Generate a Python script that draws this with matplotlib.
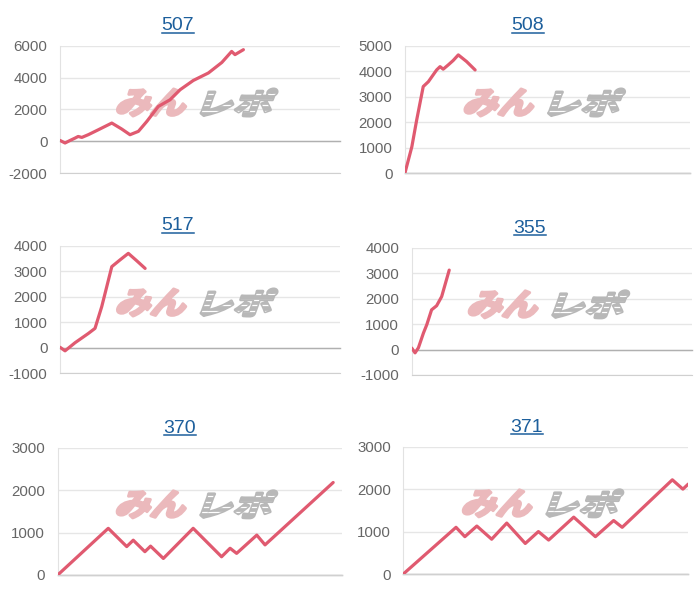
import matplotlib
matplotlib.use('Agg')
import matplotlib.pyplot as plt
from matplotlib.textpath import TextPath
from matplotlib.font_manager import FontProperties
from matplotlib.patches import PathPatch
from matplotlib.transforms import Affine2D
from matplotlib.lines import Line2D

plt.rcParams['font.family'] = ['Liberation Sans', 'DejaVu Sans']
plt.rcParams['axes.unicode_minus'] = False

W, H = 700, 600

titles = ['507', '508', '517', '355', '370', '371']

# x = position along the period (0..100), y = cumulative result
x_507 = [0, 1.8, 3.6, 5.4, 6.5, 7.8, 10.1, 13.7, 18.5, 22, 25, 28, 31, 35.1, 39.3, 42.9, 47.6, 53, 57.8, 61.3, 62.5, 65.5]
y_507 = [60, -100, 60, 210, 310, 250, 420, 730, 1150, 780, 420, 630, 1250, 2190, 2610, 3240, 3820, 4290, 4950, 5640, 5440, 5750]

x_508 = [0, 2.4, 4.1, 6.4, 8.2, 11.1, 12.3, 13.4, 15.2, 16.9, 18.7, 21.6, 24.6]
y_508 = [20, 1040, 2090, 3400, 3590, 4050, 4180, 4080, 4250, 4420, 4640, 4380, 4050]

x_517 = [0, 1.8, 5.4, 10.1, 12.5, 14.9, 18.5, 21.4, 24.4, 27.4, 30.4]
y_517 = [20, -120, 200, 560, 760, 1610, 3180, 3440, 3700, 3410, 3110]

x_355 = [0, 1.2, 2.4, 4.2, 5.4, 7.1, 8.9, 10.7, 13.4]
y_355 = [60, -130, 70, 650, 980, 1560, 1720, 2080, 3120]

x_370 = [0, 17.8, 24.3, 26.6, 30.7, 32.7, 37.2, 47.7, 57.7, 60.7, 63, 70.1, 73, 97]
y_370 = [0, 1100, 670, 820, 550, 680, 390, 1100, 430, 630, 510, 940, 710, 2180]

x_371 = [0, 18.5, 21.6, 25.8, 31, 36.3, 42.8, 47.4, 51, 59.8, 67.4, 73.8, 76.8, 94.4, 98.1, 100]
y_371 = [0, 1100, 880, 1130, 820, 1200, 720, 1000, 800, 1340, 880, 1260, 1100, 2220, 2000, 2120]

y_ticks = [
    [-2000, 0, 2000, 4000, 6000],
    [0, 1000, 2000, 3000, 4000, 5000],
    [-1000, 0, 1000, 2000, 3000, 4000],
    [-1000, 0, 1000, 2000, 3000, 4000],
    [0, 1000, 2000, 3000],
    [0, 1000, 2000, 3000],
]

series = [(x_507, y_507), (x_508, y_508), (x_517, y_517),
          (x_355, y_355), (x_370, y_370), (x_371, y_371)]

# axes boxes in pixels: left, top, right, bottom (from top of image)
boxes = [(60, 45.7, 340, 173.3), (405, 45.7, 690, 173.3),
         (60, 245.7, 340, 373.3), (411.7, 247.7, 691.7, 375),
         (57.7, 447.7, 341.7, 575), (403.3, 446.7, 688.3, 574)]
# title centre x / baseline y in pixels
title_pos = [(178, 30), (528, 30), (178, 230), (530, 232.7), (180, 432.7), (527, 431.7)]

line_color = '#e05a70'
title_color = '#1d5f9c'

fig = plt.figure(figsize=(W / 100, H / 100), dpi=100)
px = Affine2D().scale(1 / W, 1 / H) + fig.transFigure
fp = FontProperties(family='Noto Sans CJK JP', weight='bold')


def watermark(ax, l, t, r, b):
    cx = (l + r) / 2 - 4
    cy = H - ((t + b) / 2 - 7)
    h = 27
    x0 = cx - 81
    for s, w, col, dx in [('みん', 77, '#ebb9bc', 0), ('レポ', 78, '#b8b8b8', 85)]:
        p = TextPath((0, 0), s, size=1, prop=fp)
        e = p.get_extents()
        tr = (Affine2D().translate(-e.x0, -e.y0)
              .scale((w - h * 0.36) / e.width, h / e.height)
              .skew_deg(20, 0)
              .translate(x0 + dx, cy - h / 2))
        patch = PathPatch(tr.transform_path(p), facecolor=col, edgecolor=col,
                          lw=2.2, joinstyle='round', transform=px, zorder=1.5,
                          clip_on=False)
        ax.add_patch(patch)
        if s == 'レポ':
            # speed-line stripes cut through the grey half
            for k in range(1, 5):
                yy = cy - h / 2 + k * h / 5
                st = Line2D([x0 + dx - 5, x0 + dx + w + 5], [yy, yy], transform=px,
                            color='white', lw=0.9, zorder=1.6)
                ax.add_artist(st)
                st.set_clip_path(patch)


title_texts = []
for i, ((xs, ys), (l, t, r, b)) in enumerate(zip(series, boxes)):
    ax = fig.add_axes([l / W, 1 - b / H, (r - l) / W, (b - t) / H])
    ax.plot(xs, ys, color=line_color, lw=2.3, solid_joinstyle='round',
            solid_capstyle='round', zorder=3)
    ticks = y_ticks[i]
    ax.set_ylim(ticks[0], ticks[-1])
    ax.set_xlim(0, 100)
    ax.set_yticks(ticks)
    ax.set_xticks([])
    ax.grid(axis='y', color='#e6e6e6', lw=1, zorder=0)
    ax.set_axisbelow(True)
    ax.axhline(0, color='#b0b0b0', lw=1, zorder=1.2, clip_on=False)
    ax.tick_params(axis='y', length=0, pad=9, labelsize=10.8, labelcolor='#666666')
    for sp in ['top', 'right']:
        ax.spines[sp].set_visible(False)
    ax.spines['left'].set_color('#e2e2e2')
    ax.spines['bottom'].set_color('#d0d0d0')
    watermark(ax, l, t, r, b)

    tx, ty = title_pos[i]
    txt = fig.text(tx / W, 1 - ty / H, titles[i], ha='center', va='baseline',
                   fontsize=14, color=title_color)
    title_texts.append((txt, ty))

fig.canvas.draw()
renderer = fig.canvas.get_renderer()
for txt, ty in title_texts:
    bb = txt.get_window_extent(renderer)
    uy = 1 - (ty + 2.5) / H
    fig.add_artist(Line2D([bb.x0 / W, bb.x1 / W], [uy, uy], transform=fig.transFigure,
                          color=title_color, lw=1.1))

fig.savefig('out.png', dpi=100)
